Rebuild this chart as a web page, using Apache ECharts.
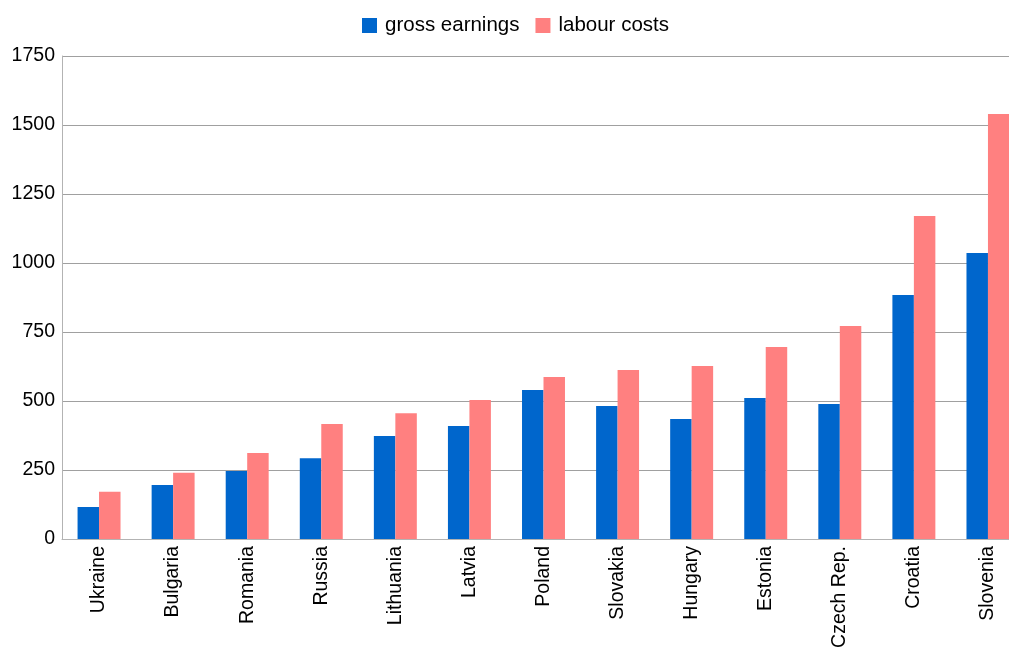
<!DOCTYPE html>
<html><head><meta charset="utf-8">
<script src="https://cdn.jsdelivr.net/npm/echarts@6/dist/echarts.min.js"></script>
<style>html,body{margin:0;padding:0;background:#fff}#c{width:1009px;height:649px}</style>
</head><body><div id="c"></div>
<script>
const categories = ['Ukraine','Bulgaria','Romania','Russia','Lithuania','Latvia','Poland','Slovakia','Hungary','Estonia','Czech Rep.','Croatia','Slovenia'];
const grossEarnings = [116, 196, 246, 293, 373, 409, 540, 482, 435, 511, 489, 884, 1036];
const labourCosts = [171, 240, 312, 417, 456, 504, 587, 612, 627, 696, 772, 1170, 1540];
const yTicks = [0, 250, 500, 750, 1000, 1250, 1500, 1750];

const chart = echarts.init(document.getElementById('c'));
chart.setOption({
  animation: false,
  textStyle: {fontFamily: 'Liberation Sans, Arial, sans-serif'},
  legend: {
    top: 10, left: 357, itemWidth: 15, itemHeight: 15, itemGap: 16,
    icon: 'rect',
    textStyle: {fontSize: 20.5, color: '#000', fontFamily: 'Liberation Sans', padding: [0, 0, 0, 3]},
    data: ['gross earnings', 'labour costs']
  },
  grid: {left: 62, right: -16, top: 56, bottom: 110, containLabel: false, outerBoundsMode: 'none'},
  xAxis: {
    type: 'category', data: categories,
    axisLine: {lineStyle: {color: '#b3b3b3', width: 1}},
    axisTick: {show: false},
    axisLabel: {rotate: 90, fontSize: 19.5, color: '#000', margin: 7, interval: 0, fontFamily: 'Liberation Sans'}
  },
  yAxis: {
    type: 'value', min: yTicks[0], max: yTicks[yTicks.length - 1], interval: 250,
    axisLine: {show: true, lineStyle: {color: '#b3b3b3'}},
    axisTick: {show: false},
    axisLabel: {fontSize: 19.5, color: '#000', margin: 7, fontFamily: 'Liberation Sans', formatter: v => String(v)},
    splitLine: {lineStyle: {color: '#a0a0a0', width: 1}}
  },
  series: [
    {name: 'gross earnings', type: 'bar', data: grossEarnings, barGap: '0%', barCategoryGap: '42%', itemStyle: {color: '#0066cc'}},
    {name: 'labour costs', type: 'bar', data: labourCosts, itemStyle: {color: '#ff8080'}}
  ]
});
</script></body></html>
